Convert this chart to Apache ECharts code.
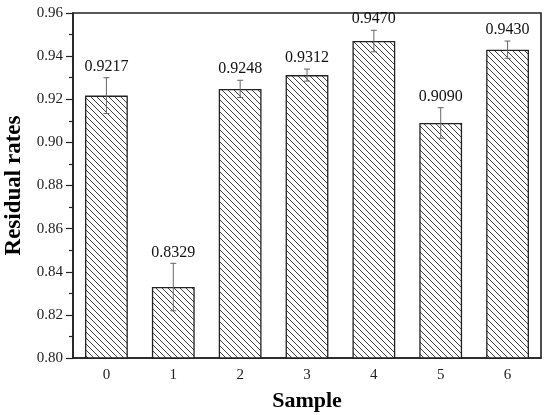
<!DOCTYPE html>
<html>
<head>
<meta charset="utf-8">
<script src="https://cdn.jsdelivr.net/npm/echarts@6/dist/echarts.min.js"></script>
<style>html,body{margin:0;padding:0;background:#fff}#c{width:550px;height:415px}</style>
</head>
<body>
<div id="c"></div>
<script>
var categories = ['0', '1', '2', '3', '4', '5', '6'];
var values = [0.9217, 0.8329, 0.9248, 0.9312, 0.9470, 0.9090, 0.9430];
var errors = [0.0083, 0.0110, 0.0040, 0.0028, 0.0050, 0.0071, 0.0040];
var yTicks = { min: 0.80, max: 0.96, interval: 0.02 };

function hatch() {
  var s = 6;
  var c = document.createElement('canvas');
  c.width = s; c.height = s;
  var g = c.getContext('2d');
  g.fillStyle = '#fff';
  g.fillRect(0, 0, s, s);
  g.strokeStyle = '#404040';
  g.lineWidth = 1;
  g.beginPath();
  g.moveTo(-1, -1); g.lineTo(s + 1, s + 1);
  g.moveTo(-1, s - 1); g.lineTo(1, s + 1);
  g.moveTo(s - 1, -1); g.lineTo(s + 1, 1);
  g.stroke();
  return c;
}

var font = '"Liberation Serif", "Times New Roman", serif';
var chart = echarts.init(document.getElementById('c'));
var errData = values.map(function (v, i) { return [i, v, errors[i]]; });

chart.setOption({
  animation: false,
  grid: { left: 73, right: 9, top: 13, bottom: 57, outerBoundsMode: 'none', containLabel: false, show: true, borderColor: '#222', borderWidth: 1.6, backgroundColor: 'transparent' },
  xAxis: {
    type: 'category',
    data: categories,
    name: 'Sample',
    nameLocation: 'middle',
    nameGap: 32,
    nameTextStyle: { fontFamily: font, fontWeight: 'bold', fontSize: 22, color: '#000' },
    axisLine: { lineStyle: { color: '#222', width: 1.6 } },
    axisTick: { inside: false, alignWithLabel: true, length: 6, lineStyle: { color: '#222', width: 1.2 } },
    axisLabel: { fontFamily: font, fontSize: 15, color: '#222', margin: 10 },
    splitLine: { show: false }
  },
  yAxis: {
    type: 'value',
    min: yTicks.min,
    max: yTicks.max,
    interval: yTicks.interval,
    name: 'Residual rates',
    nameLocation: 'middle',
    nameGap: 41,
    nameTextStyle: { fontFamily: font, fontWeight: 'bold', fontSize: 23, color: '#000' },
    axisLine: { show: true, lineStyle: { color: '#222', width: 1.6 } },
    axisTick: { show: true, inside: false, length: 7, lineStyle: { color: '#222', width: 1.2 } },
    minorTick: { show: true, splitNumber: 2, length: 4, lineStyle: { color: '#222', width: 1.2 } },
    axisLabel: { fontFamily: font, fontSize: 15, color: '#222', margin: 10, formatter: function (v) { return v.toFixed(2); } },
    splitLine: { show: false }
  },
  series: [
    {
      type: 'bar',
      data: values,
      barWidth: '64%',
      itemStyle: { color: { image: hatch(), repeat: 'repeat' }, borderColor: '#222', borderWidth: 1.3 }
    },
    {
      type: 'custom',
      data: errData,
      z: 10,
      renderItem: function (params, api) {
        var i = api.value(0), v = api.value(1), e = api.value(2);
        var top = api.coord([i, v + e]);
        var bot = api.coord([i, v - e]);
        var w = 3;
        return {
          type: 'group',
          children: [
            { type: 'line', shape: { x1: top[0], y1: top[1], x2: bot[0], y2: bot[1] }, style: { stroke: '#666', lineWidth: 1 } },
            { type: 'line', shape: { x1: top[0] - w, y1: top[1], x2: top[0] + w, y2: top[1] }, style: { stroke: '#666', lineWidth: 1 } },
            { type: 'line', shape: { x1: bot[0] - w, y1: bot[1], x2: bot[0] + w, y2: bot[1] }, style: { stroke: '#666', lineWidth: 1 } },
            { type: 'text', x: top[0], y: top[1] - 3, style: { text: v.toFixed(4), fontFamily: font, fontSize: 16, fill: '#111', align: 'center', verticalAlign: 'bottom' } }
          ]
        };
      }
    }
  ]
});
</script>
</body>
</html>
